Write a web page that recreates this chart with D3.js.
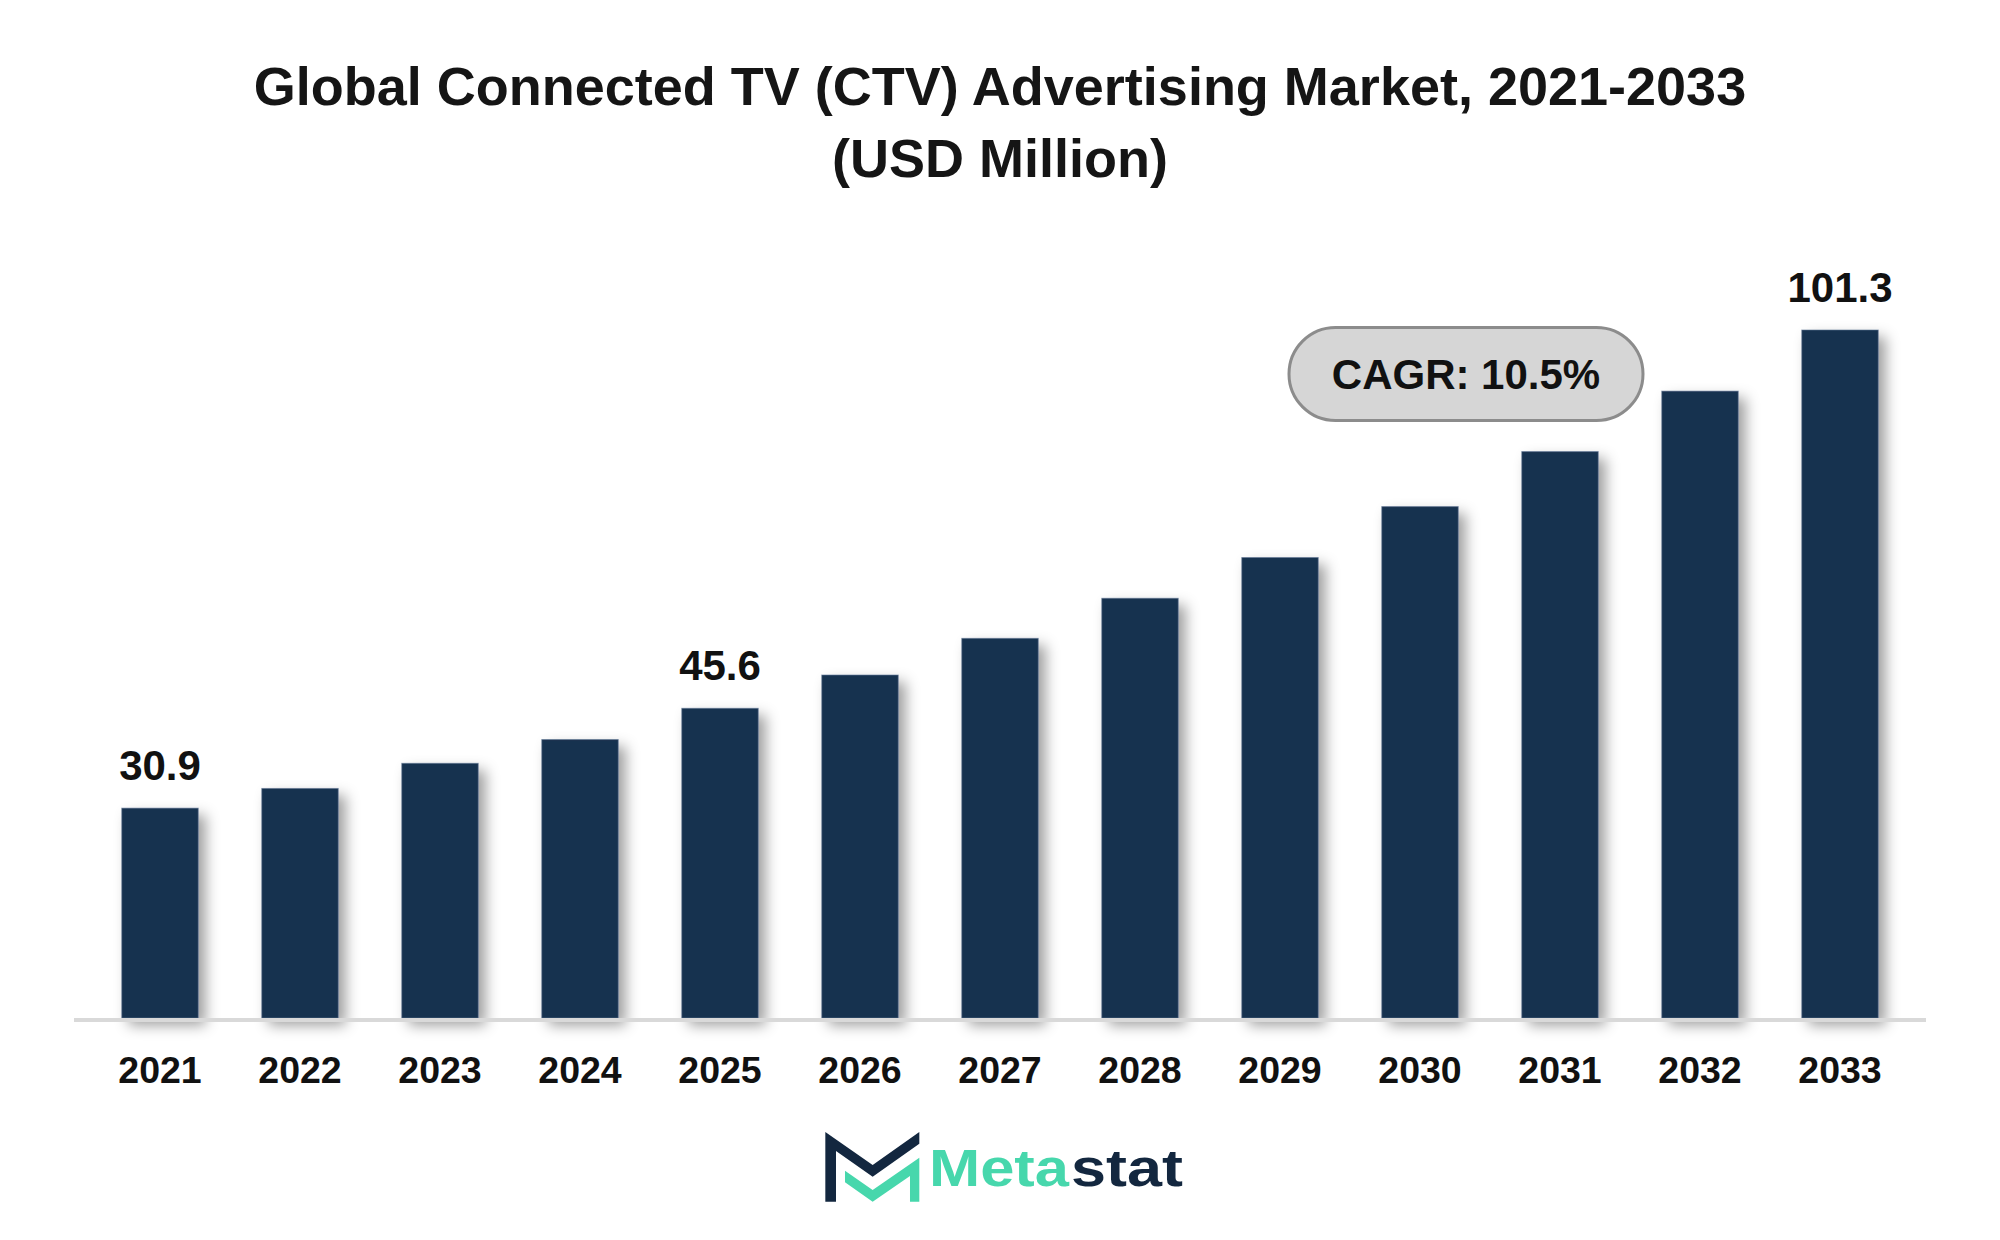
<!DOCTYPE html>
<html>
<head>
<meta charset="utf-8">
<script src="https://cdn.jsdelivr.net/npm/d3@7"></script>
<style>
  body { margin: 0; background: #fff; }
  text { font-family: "Liberation Sans", Arial, sans-serif; font-weight: bold; }
</style>
</head>
<body>
<script>
// market size by year (USD Million)
var years = ["2021", "2022", "2023", "2024", "2025", "2026", "2027", "2028", "2029", "2030", "2031", "2032", "2033"];
var values = [30.9, 33.8, 37.5, 41.0, 45.6, 50.5, 55.9, 61.8, 67.8, 75.3, 83.4, 92.3, 101.3];
// only these bars get a value label
var labelYears = ["2021", "2025", "2033"];
var titleLines = ["Global Connected TV (CTV) Advertising Market, 2021-2033", "(USD Million)"];
var cagrText = "CAGR: 10.5%";

var width = 2000, height = 1240;

var svg = d3.select("body").append("svg")
    .attr("width", width)
    .attr("height", height);

// drop shadow for the bars
var defs = svg.append("defs");
var shadow = defs.append("filter")
    .attr("id", "shadow")
    .attr("x", "-20%").attr("y", "-10%")
    .attr("width", "160%").attr("height", "130%");
shadow.append("feDropShadow")
    .attr("dx", 7)
    .attr("dy", 7)
    .attr("stdDeviation", 7)
    .attr("flood-color", "#000")
    .attr("flood-opacity", 0.38);

// title
svg.selectAll(".title")
    .data(titleLines)
    .enter()
    .append("text")
    .attr("class", "title")
    .attr("x", 1000)
    .attr("y", function(d, i) { return 105 + i * 72; })
    .attr("text-anchor", "middle")
    .attr("font-size", 54)
    .attr("fill", "#151515")
    .text(function(d) { return d; });

var x = d3.scaleBand()
    .domain(years)
    .range([90, 1910])
    .paddingInner(0.4536)
    .paddingOuter(0.2268);

var y = d3.scaleLinear()
    .domain([0, 101.3])
    .range([1018, 330]);

// bars
svg.append("g")
    .attr("filter", "url(#shadow)")
    .selectAll("rect")
    .data(values)
    .enter()
    .append("rect")
    .attr("x", function(d, i) { return x(years[i]); })
    .attr("y", function(d) { return y(d); })
    .attr("width", x.bandwidth())
    .attr("height", function(d) { return y(0) - y(d); })
    .attr("fill", "#19324f")
    .attr("stroke", "#5b7391")
    .attr("stroke-opacity", 0.6)
    .attr("stroke-width", 1);

// baseline
svg.append("line")
    .attr("x1", 74)
    .attr("x2", 1926)
    .attr("y1", y(0) + 2)
    .attr("y2", y(0) + 2)
    .attr("stroke", "#d9d9d9")
    .attr("stroke-width", 4);

// x axis labels
var xAxis = svg.append("g")
    .attr("transform", "translate(0," + (y(0) + 4) + ")")
    .call(d3.axisBottom(x).tickSize(0).tickPadding(0));
xAxis.select(".domain").remove();
xAxis.selectAll("text")
    .attr("dy", 0)
    .attr("y", 61)
    .attr("font-size", 37.5)
    .attr("font-family", "Liberation Sans, Arial, sans-serif")
    .attr("font-weight", "bold")
    .attr("fill", "#111");

// value labels
svg.selectAll(".value-label")
    .data(values)
    .enter()
    .filter(function(d, i) { return labelYears.indexOf(years[i]) >= 0; })
    .append("text")
    .attr("class", "value-label")
    .attr("x", function(d) { return x(years[values.indexOf(d)]) + x.bandwidth() / 2; })
    .attr("y", function(d) { return y(d) - 28; })
    .attr("text-anchor", "middle")
    .attr("font-size", 42)
    .attr("fill", "#111")
    .text(function(d) { return d.toFixed(1); });

// CAGR pill
var pill = svg.append("g").attr("transform", "translate(1466,374)");
pill.append("rect")
    .attr("x", -177)
    .attr("y", -46.5)
    .attr("width", 354)
    .attr("height", 93)
    .attr("rx", 46.5)
    .attr("fill", "#d6d6d6")
    .attr("stroke", "#8c8c8c")
    .attr("stroke-width", 3);
pill.append("text")
    .attr("x", 0)
    .attr("y", 15)
    .attr("text-anchor", "middle")
    .attr("font-size", 42)
    .attr("fill", "#111")
    .text(cagrText);

// Metastat logo
var logo = svg.append("g");
var icon = logo.append("g").attr("transform", "translate(800,1110) scale(0.3333)");
icon.append("path")
    .attr("d", "M76,66 L218,165 L358,66 L358,101 L218,200 L108,123 L108,275 L76,275 Z")
    .attr("fill", "#13273f");
icon.append("path")
    .attr("d", "M135,182 L218,240 L358,143 L358,275 L330,275 L330,198 L218,275 L135,217 Z")
    .attr("fill", "#47d7ac");
logo.append("text")
    .attr("x", 929)
    .attr("y", 1186)
    .attr("font-family", "DejaVu Sans, sans-serif")
    .attr("font-size", 51)
    .attr("textLength", 140)
    .attr("lengthAdjust", "spacingAndGlyphs")
    .attr("fill", "#47d7ac")
    .text("Meta");
logo.append("text")
    .attr("x", 1071)
    .attr("y", 1186)
    .attr("font-family", "DejaVu Sans, sans-serif")
    .attr("font-size", 51)
    .attr("textLength", 112)
    .attr("lengthAdjust", "spacingAndGlyphs")
    .attr("fill", "#13273f")
    .text("stat");
</script>
</body>
</html>
